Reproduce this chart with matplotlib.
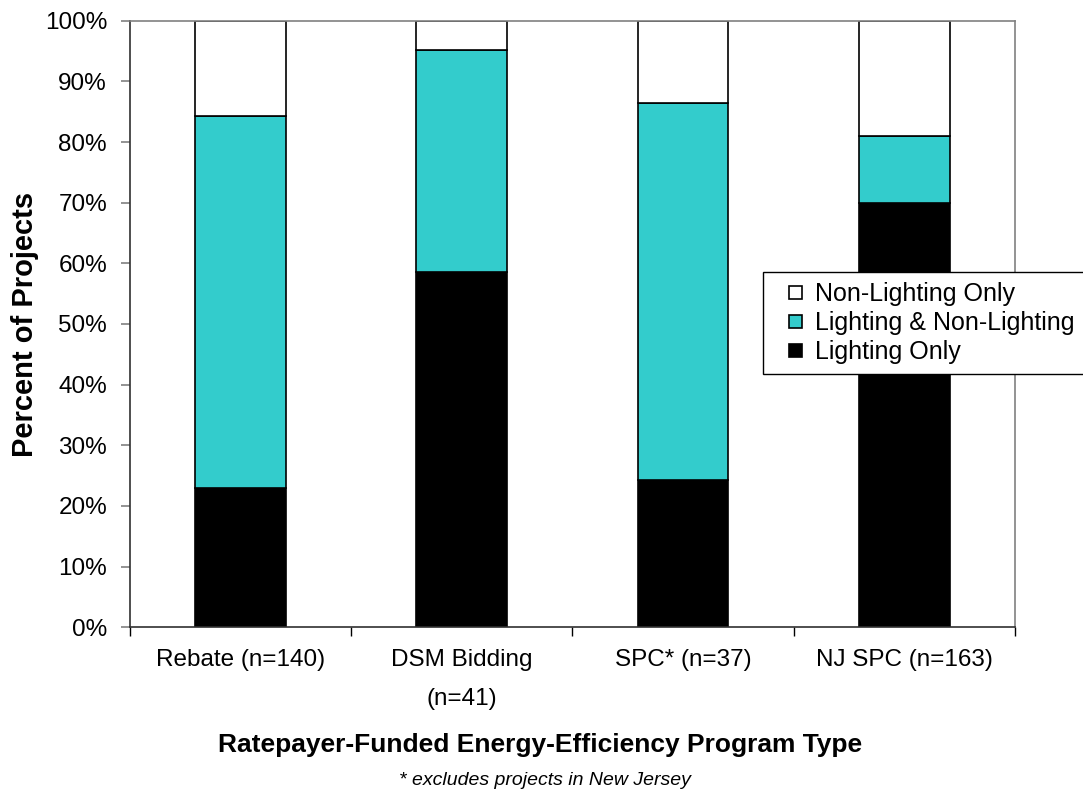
import numpy as np
import matplotlib
matplotlib.use("Agg")
import matplotlib.pyplot as plt
from matplotlib.patches import Rectangle
from matplotlib.legend_handler import HandlerPatch
from matplotlib.ticker import FixedLocator, PercentFormatter

# share of projects per program type (percent)
programs = ["Rebate (n=140)", "DSM Bidding\n(n=41)", "SPC* (n=37)", "NJ SPC (n=163)"]
lighting_only = [22.9, 58.5, 24.3, 69.9]
lighting_and_non = [61.4, 36.6, 62.2, 11.1]
non_lighting_only = [15.7, 4.9, 13.5, 19.0]

plt.rcParams["font.family"] = ["Liberation Sans", "DejaVu Sans"]

fig = plt.figure(figsize=(10.83, 7.98), dpi=100)
ax = fig.add_axes([0.120, 0.214, 0.817, 0.760])

x = np.arange(len(programs))
w = 0.41
bottom2 = np.array(lighting_only)
bottom3 = bottom2 + np.array(lighting_and_non)

b1 = ax.bar(x, lighting_only, w, color="black", edgecolor="black", linewidth=1.2)
b2 = ax.bar(x, lighting_and_non, w, bottom=bottom2, color="#33CCCC", edgecolor="black",
            linewidth=1.2)
b3 = ax.bar(x, non_lighting_only, w, bottom=bottom3, color="white", edgecolor="black",
            linewidth=1.2)

ax.set_xlim(-0.5, 3.5)
ax.set_ylim(0, 100)
ax.yaxis.set_major_locator(FixedLocator(np.arange(0, 101, 10)))
ax.yaxis.set_major_formatter(PercentFormatter(decimals=0))

# ticks sit between categories, labels centered under the bars
ax.xaxis.set_major_locator(FixedLocator(np.arange(-0.5, 3.6, 1)))
ax.xaxis.set_minor_locator(FixedLocator(x))
ax.set_xticklabels([""] * 5)
ax.set_xticklabels(programs, minor=True, linespacing=2.0)
ax.tick_params(axis="x", which="major", direction="out", length=6.5, color="black", width=1)
ax.tick_params(axis="x", which="minor", length=0, pad=16, labelsize=17.5)
ax.tick_params(axis="y", direction="out", length=6.5, color="#808080", width=1.2,
               labelsize=17.5, pad=10)

for side in ["top", "right"]:
    ax.spines[side].set_color("#808080")
    ax.spines[side].set_linewidth(1.2)
for side in ["left", "bottom"]:
    ax.spines[side].set_color("#303030")
    ax.spines[side].set_linewidth(1.2)

ax.set_ylabel("Percent of Projects", fontsize=21, fontweight="bold", labelpad=4)
fig.text(0.499, 0.066, "Ratepayer-Funded Energy-Efficiency Program Type", ha="center",
         va="center", fontsize=19, fontweight="bold")
fig.text(0.503, 0.022, "* excludes projects in New Jersey", ha="center", va="center",
         fontsize=14, style="italic")


def small_square(legend, orig_handle, xdescent, ydescent, width, height, fontsize):
    s = 0.52 * fontsize
    return Rectangle((-xdescent + width - s, -ydescent + (height - s) / 2), s, s)


leg = fig.legend(handles=[b3[0], b2[0], b1[0]],
                 labels=["Non-Lighting Only", "Lighting & Non-Lighting", "Lighting Only"],
                 loc="upper left", bbox_to_anchor=(0.7045, 0.659),
                 fontsize=18, frameon=True, fancybox=False, framealpha=1,
                 handlelength=1.18, handleheight=0.7, handletextpad=0.5,
                 labelspacing=0.2, borderpad=0.4, borderaxespad=0,
                 handler_map={Rectangle: HandlerPatch(patch_func=small_square)})
leg.get_frame().set_edgecolor("black")
leg.get_frame().set_linewidth(1.0)

fig.savefig("out.png", dpi=100)
